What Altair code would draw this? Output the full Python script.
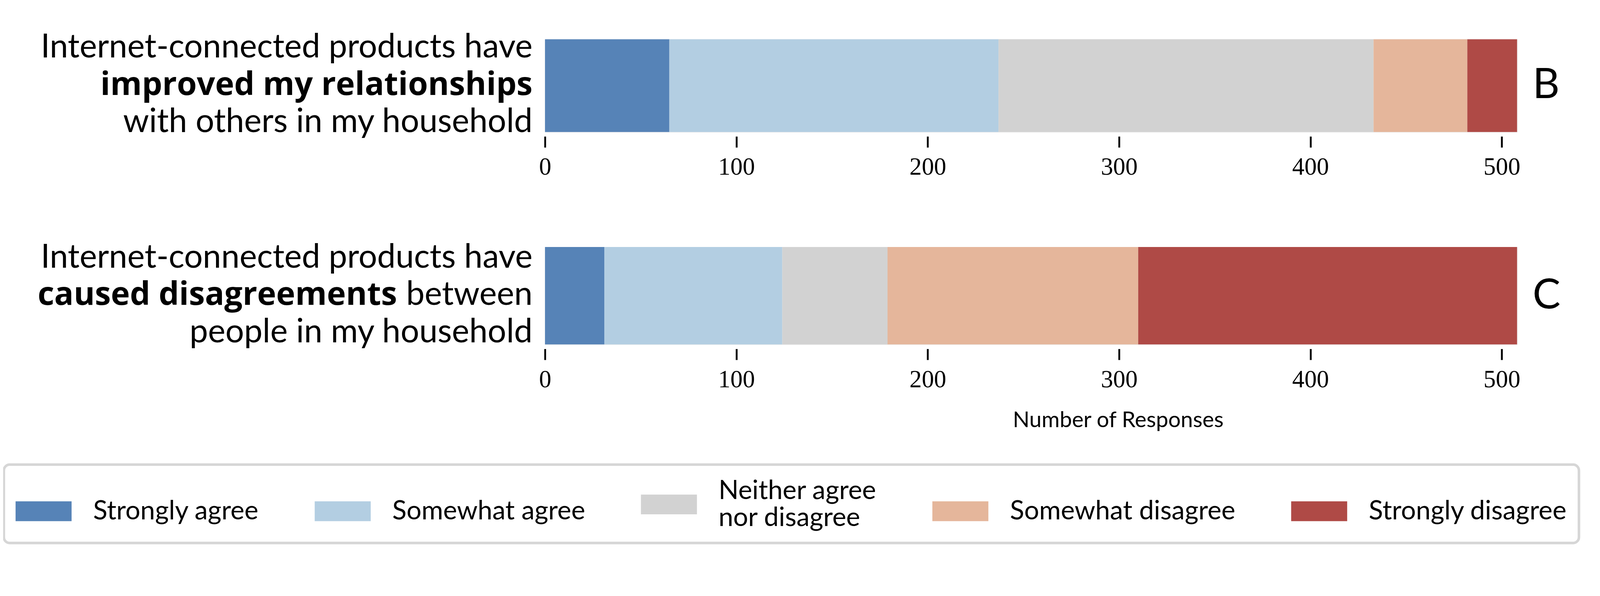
import altair as alt
import pandas as pd

# ---------------- data ----------------
responses = ["Strongly agree", "Somewhat agree", "Neither agree nor disagree",
             "Somewhat disagree", "Strongly disagree"]
colors = ["#5683b7", "#b3cee2", "#d2d2d2", "#e5b69b", "#af4a46"]
improved_counts = [65, 172, 196, 49, 26]
caused_counts = [31, 93, 55, 131, 198]
panel_letters = ["B", "C"]
tick_values = [0, 100, 200, 300, 400, 500]
x_max = 508

# each line is a list of (text, weight) segments
label_B = [
    [("Internet-connected products have", "normal")],
    [("improved my relationships", "bold")],
    [("with others in my household", "normal")],
]
label_C = [
    [("Internet-connected products have", "normal")],
    [("caused disagreements", "bold"), ("between", "normal")],
    [("people in my household", "normal")],
]
legend_split = {"Neither agree nor disagree": ["Neither agree", "nor disagree"]}
x_title = "Number of Responses"

# ---------------- style ----------------
SANS = "Lato"
BOLD_SANS = "Open Sans"
SERIF = "Liberation Serif"
LFS = 90           # left label font size
BFS = 88           # bold segment font size
LINE_DY = [-77, 25, 127]
RIGHT_DX = -34
SEG_GAP = [0, -370]  # right edge offsets for successive segments (right to left)
PLOT_W = 2655

label_expr = " : ".join(
    [f"datum.label == '{k}' ? [{', '.join(repr(s) for s in v)}]" for k, v in legend_split.items()]
    + ["datum.label"]
)
multi_keys = " || ".join(f"datum.value == '{k}'" for k in legend_split)
baseline_expr = f"({multi_keys}) ? 'bottom' : 'middle'"

legend_spec = alt.Legend(
    orient="none", legendX=-1478, legendY=1161, direction="horizontal", columns=5,
    title=None,
    symbolType="M-1,-0.353H1V0.353H-1Z", symbolSize=153 * 153,
    symbolStrokeWidth=0, symbolOpacity=1,
    labelFont=SANS, labelFontSize=72, labelColor="black", labelLimit=3000,
    labelOffset=59, columnPadding=152, padding=32,
    labelBaseline={"expr": baseline_expr},
    strokeColor="#d6d6d6", cornerRadius=16, fillColor="white",
    labelExpr=label_expr,
)


def panel(letter, counts, lines, height, title):
    df = pd.DataFrame({"letter": letter, "response": responses,
                       "rank": list(range(len(responses))), "count": counts})
    y_enc = alt.Y("letter:N", scale=alt.Scale(paddingInner=0, paddingOuter=0),
                  axis=alt.Axis(orient="right", title=None, domain=False, ticks=False,
                                labelFont=SANS, labelFontSize=114, labelPadding=42,
                                labelColor="black", labelAlign="left", labelBaseline="middle"))
    x_axis = dict(values=tick_values, domain=False, grid=False, ticks=True, tickSize=30,
                  tickWidth=5, tickColor="black", offset=12, labelFont=SERIF,
                  labelFontSize=67, labelPadding=21, labelColor="black", labelFlush=False,
                  labelOverlap=False, format="d")
    if title:
        x_axis.update(title=title, titleFont=SANS, titleFontSize=60, titleFontWeight="normal",
                      titleColor="black", titleX=1565, titleAlign="center", titlePadding=49)
    else:
        x_axis.update(title=None)
    bars = alt.Chart(df).mark_bar().encode(
        x=alt.X("count:Q", stack="zero",
                scale=alt.Scale(domain=[0, x_max], nice=False, zero=True),
                axis=alt.Axis(**x_axis)),
        y=y_enc,
        color=alt.Color("response:N", scale=alt.Scale(domain=responses, range=colors),
                        legend=legend_spec),
        order=alt.Order("rank:Q"),
    )
    layers = [bars]
    for i, segs in enumerate(lines):
        for j, (txt, w) in enumerate(reversed(segs)):
            tdf = pd.DataFrame({"letter": [letter], "text": [txt]})
            bold = w == "bold"
            layers.append(
                alt.Chart(tdf).mark_text(
                    align="right", baseline="alphabetic",
                    font=BOLD_SANS if bold else SANS, fontSize=BFS if bold else LFS,
                    fontWeight=w, color="black", dx=RIGHT_DX + SEG_GAP[j], dy=LINE_DY[i]
                ).encode(x=alt.value(0), y=y_enc, text="text:N")
            )
    return alt.layer(*layers).properties(width=PLOT_W, height=height)


pB = panel(panel_letters[0], improved_counts, label_B, 253, None)
pC = panel(panel_letters[1], caused_counts, label_C, 266, x_title)

chart = alt.vconcat(pB, pC, spacing=314, bounds="flush").properties(
    padding={"left": -2, "top": 27, "right": 45, "bottom": 30}
).configure_view(stroke=None).configure(background="white").configure_legend(strokeWidth=7)

chart.save("out.html", embed_options={"renderer": "svg", "actions": False})
